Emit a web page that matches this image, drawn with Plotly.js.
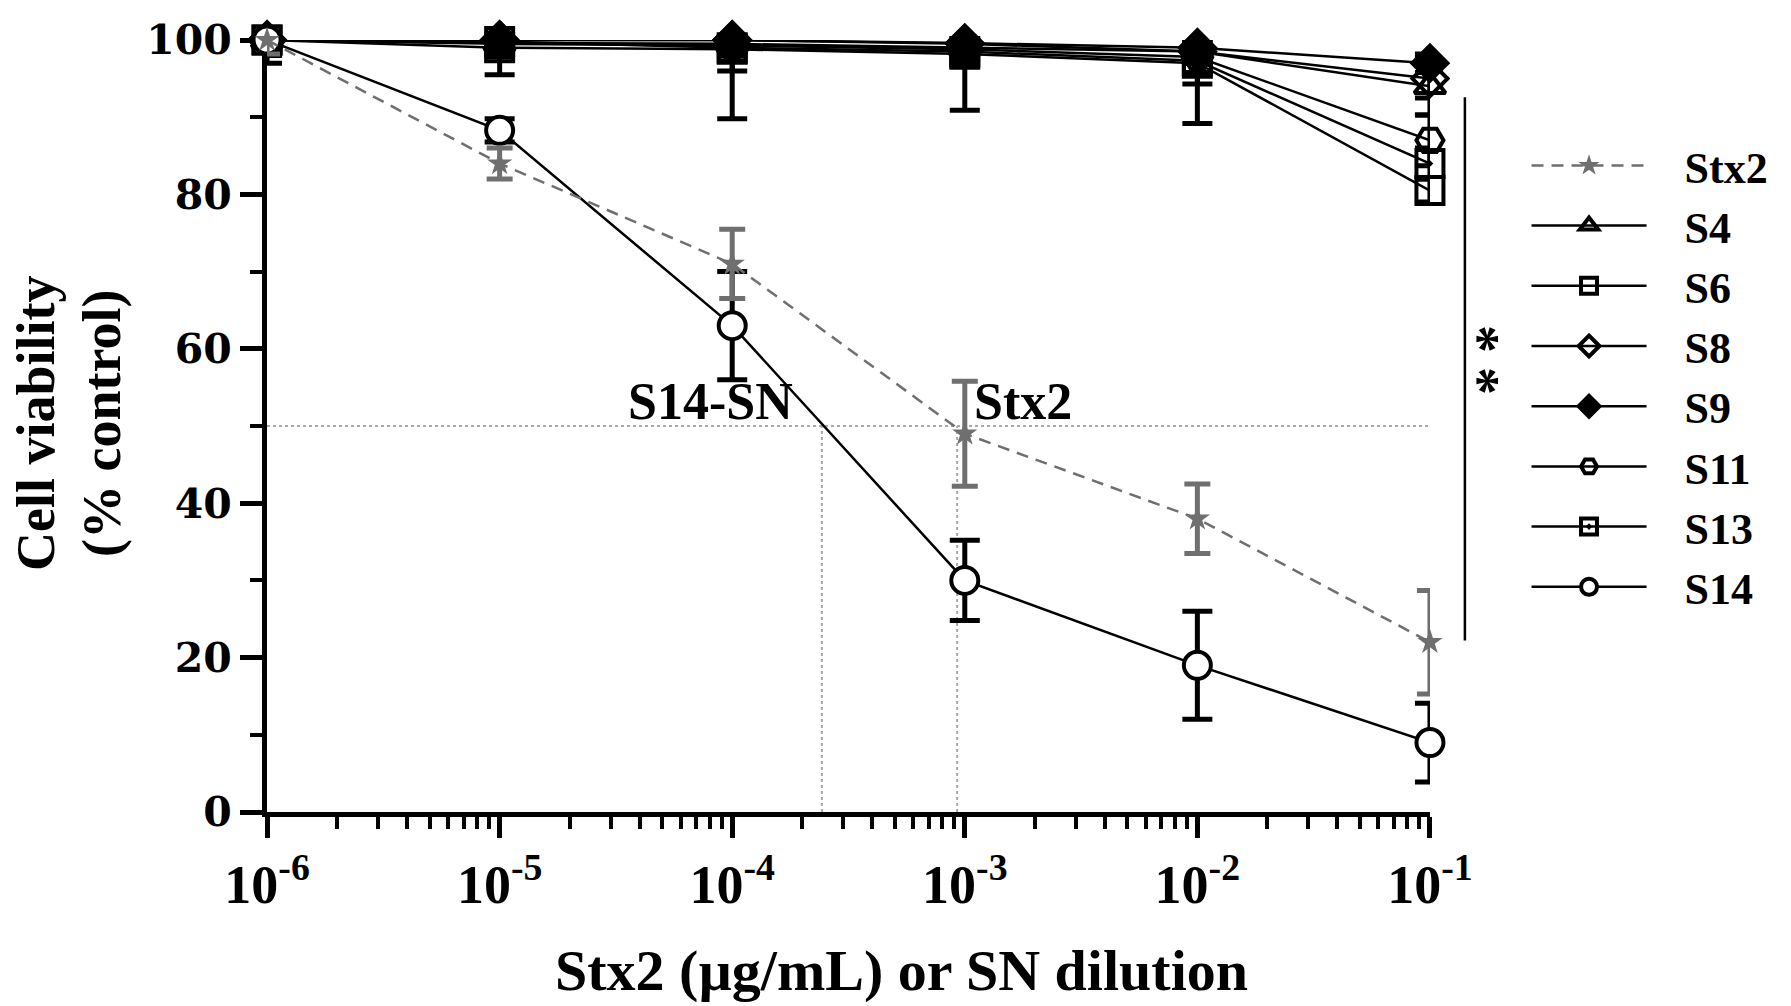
<!DOCTYPE html>
<html>
<head>
<meta charset="utf-8">
<script src="https://cdn.plot.ly/plotly-3.0.1.min.js"></script>
<style>
  html, body { margin: 0; padding: 0; background: #fff; }
</style>
</head>
<body>
<div id="chart" style="width:1791px;height:1006px"></div>
<script>
// doses (Stx2 ug/mL or SN dilution)
const doses = [1e-6, 1e-5, 1e-4, 1e-3, 1e-2, 1e-1];
const doseLabels = ['10<sup>-6</sup>', '10<sup>-5</sup>', '10<sup>-4</sup>', '10<sup>-3</sup>', '10<sup>-2</sup>', '10<sup>-1</sup>'];
const yTicks = [0, 20, 40, 60, 80, 100];
const yMinorTicks = [10, 30, 50, 70, 90];

// mean cell viability (% control) and SD
const stx2 = [100, 84, 71, 49, 38, 22];
const stx2Sd = [1.8, 2, 4.5, 6.8, 4.5, 6.7];
const s4 = [100, 99.6, 99.5, 99, 98.5, 94];
const s4Sd = [1.5, 1, 1.5, 1.2, 1.5, 3.7];
const s6 = [100, 99, 98.8, 98.2, 97, 80.5];
const s6Sd = [3, 3.5, 9, 7.3, 7.8, 1.5];
const s8 = [100, 100, 100, 99.5, 98.5, 95];
const s8Sd = [1, 1.2, 1.5, 1, 1.5, 2.5];
const s9 = [100, 100, 100, 99.6, 99, 97];
const s9Sd = [1, 1, 1, 1, 1, 1.2];
const s11 = [100, 99.5, 99.3, 98.8, 97.8, 87];
const s11Sd = [1.5, 1.5, 2, 1.5, 2, 3.3];
const s13 = [100, 99.8, 99, 98.5, 97.3, 84];
const s13Sd = [2, 2, 3, 2, 3, 2];
const s14 = [100, 88.3, 63, 30, 19, 9];
const s14Sd = [1, 1.5, 7, 5.2, 7, 5.1];

// IC50 read-outs
const halfViability = 50;
const ic50S14 = 2.43e-4;
const ic50Stx2 = 9.27e-4;

// significance bar (S-group vs Stx2 at the top dose)
const sigTop = 92.6;
const sigBottom = 22.2;

const serif = 'Liberation Serif, Times New Roman, serif';
const gray = '#6f6f6f';
const pad = '\u00a0\u00a0\u00a0';

// the axis stops at 100, so upper error bars are cut there like in the original
function upperErr(y, sd) {
  return sd.map((s, i) => Math.min(s, Math.max(0, 100.5 - y[i])));
}

function groupTrace(name, y, sd, symbol, fill) {
  return {
    name: pad + name,
    x: doses,
    y: y,
    type: 'scatter',
    mode: 'lines+markers',
    cliponaxis: false,
    line: { color: '#000', width: 2.5 },
    marker: { symbol: symbol, size: 27, color: fill, line: { color: '#000', width: 4 } },
    error_y: {
      type: 'data', symmetric: false,
      array: upperErr(y, sd), arrayminus: sd,
      color: '#000', thickness: 5, width: 15
    }
  };
}

function refLine(x, y) {
  return {
    x: x, y: y, type: 'scatter', mode: 'lines', showlegend: false, hoverinfo: 'skip',
    line: { color: '#a8a8a8', width: 2, dash: 'dot' }
  };
}

const traces = [
  refLine([doses[0], doses[doses.length - 1]], [halfViability, halfViability]),
  refLine([ic50S14, ic50S14], [0, halfViability]),
  refLine([ic50Stx2, ic50Stx2], [0, halfViability]),
  groupTrace('S4', s4, s4Sd, 'triangle-up-open', '#000'),
  groupTrace('S6', s6, s6Sd, 'square-open', '#000'),
  groupTrace('S8', s8, s8Sd, 'diamond-open', '#000'),
  groupTrace('S9', s9, s9Sd, 'diamond', '#000'),
  groupTrace('S11', s11, s11Sd, 'hexagon2-open', '#000'),
  groupTrace('S13', s13, s13Sd, 'square-open-dot', '#000'),
  groupTrace('S14', s14, s14Sd, 'circle', '#fff'),
  {
    name: pad + 'Stx2',
    legendrank: 1,
    x: doses,
    y: stx2,
    type: 'scatter',
    mode: 'lines+markers',
    cliponaxis: false,
    line: { color: gray, width: 2.5, dash: '12px,8px' },
    marker: { symbol: 'star', size: 19, color: gray },
    error_y: {
      type: 'data', symmetric: false,
      array: upperErr(stx2, stx2Sd), arrayminus: stx2Sd,
      color: gray, thickness: 5, width: 13
    }
  }
];

const layout = {
  width: 1791,
  height: 1006,
  margin: { l: 267, r: 361, t: 40, b: 194 },
  paper_bgcolor: '#fff',
  plot_bgcolor: '#fff',
  font: { family: serif, size: 46, color: '#000', weight: 'bold' },
  showlegend: true,
  xaxis: {
    type: 'log',
    range: [-6.0002, -0.9998],
    tickmode: 'array',
    tickvals: doses,
    ticktext: doseLabels,
    ticks: 'outside', ticklen: 21, tickwidth: 5, tickcolor: '#000',
    minor: { dtick: 'D1', ticks: 'outside', ticklen: 12, tickwidth: 4, tickcolor: '#000' },
    showline: true, linewidth: 5, linecolor: '#000',
    showgrid: false, zeroline: false,
    layer: 'below traces',
    tickfont: { family: serif, size: 54, weight: 'bold' }
  },
  yaxis: {
    range: [0, 100],
    tickmode: 'array',
    tickvals: yTicks,
    ticks: 'outside', ticklen: 22, tickwidth: 5, tickcolor: '#000',
    minor: { tickmode: 'array', tickvals: yMinorTicks, ticks: 'outside', ticklen: 12, tickwidth: 4, tickcolor: '#000' },
    showline: true, linewidth: 5, linecolor: '#000',
    showgrid: false, zeroline: false,
    layer: 'below traces',
    tickfont: { family: 'DejaVu Serif, serif', size: 41, weight: 'bold' }
  },
  legend: {
    x: 1.083, xanchor: 'left',
    y: 0.883, yanchor: 'top',
    font: { family: serif, size: 44, weight: 'bold' },
    itemwidth: 115,
    bgcolor: 'rgba(0,0,0,0)'
  },
  shapes: [
    { type: 'line', xref: 'paper', yref: 'y', x0: 1.030, x1: 1.030, y0: sigBottom, y1: sigTop,
      line: { color: '#000', width: 2.5 } }
  ],
  annotations: [
    // axis titles placed by hand: the x title sits right of centre in the original
    { x: 0.546, y: -0.205, xref: 'paper', yref: 'paper', text: 'Stx2 (µg/mL) or SN dilution',
      showarrow: false, xanchor: 'center', yanchor: 'middle',
      font: { family: serif, size: 58, weight: 'bold' } },
    { x: -0.1986, y: 0.504, xref: 'paper', yref: 'paper', text: 'Cell viability', textangle: -90,
      showarrow: false, xanchor: 'center', yanchor: 'middle',
      font: { family: serif, size: 54, weight: 'bold' } },
    { x: -0.1419, y: 0.504, xref: 'paper', yref: 'paper', text: '(% control)', textangle: -90,
      showarrow: false, xanchor: 'center', yanchor: 'middle',
      font: { family: serif, size: 54, weight: 'bold' } },
    { x: Math.log10(ic50S14), y: halfViability, xref: 'x', yref: 'y', text: 'S14-SN',
      showarrow: false, xanchor: 'right', yanchor: 'bottom', xshift: -27, yshift: -6,
      font: { family: serif, size: 52, weight: 'bold' } },
    { x: Math.log10(ic50Stx2), y: halfViability, xref: 'x', yref: 'y', text: 'Stx2',
      showarrow: false, xanchor: 'left', yanchor: 'bottom', xshift: 15, yshift: -6,
      font: { family: serif, size: 52, weight: 'bold' } },
    { x: 1.070, y: 58.5, xref: 'paper', yref: 'y', text: '* *', textangle: 90,
      showarrow: false, font: { family: serif, size: 56, weight: 'bold' } }
  ]
};

Plotly.newPlot('chart', traces, layout, { displayModeBar: false, staticPlot: true });
</script>
</body>
</html>
